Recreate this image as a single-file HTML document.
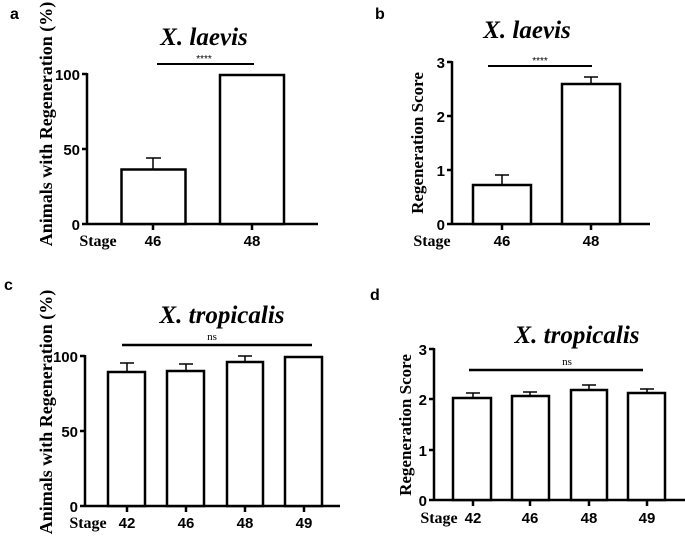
<!DOCTYPE html>
<html><head><meta charset="utf-8"><style>body{margin:0;background:#fff}svg{display:block}</style></head><body>
<svg width="685" height="544" viewBox="0 0 685 544" xmlns="http://www.w3.org/2000/svg">
<g font-family="Liberation Sans, sans-serif" font-weight="bold" fill="#000">
<text x="10" y="19" font-size="16">a</text>
<text x="375" y="19" font-size="16">b</text>
<text x="4" y="290" font-size="16">c</text>
<text x="370" y="300" font-size="16">d</text>
</g>
<g stroke="#000" stroke-width="2.5" fill="none">
<path d="M87,73 V224 H318 M82,74 H87 M82,149 H87 M82,224 H87 M153,224 V230 M252,224 V230"/>
<rect x="121.5" y="169.5" width="64" height="54.5" fill="#fff"/>
<rect x="220" y="75" width="64" height="149" fill="#fff"/>
<path d="M153,169 V158 M146,158 H161" stroke-width="1.5"/>
<path d="M157,64 H254" stroke-width="2"/>
<path d="M452,61 V224 H650 M447,62 H452 M447,116 H452 M447,170 H452 M447,224 H452 M502,224 V230 M591,224 V230"/>
<rect x="473" y="185" width="58" height="39" fill="#fff"/>
<rect x="562" y="84" width="58" height="140" fill="#fff"/>
<path d="M502,185 V175 M495,175 H509 M591,84 V77 M584,77 H598" stroke-width="1.5"/>
<path d="M488,66 H592" stroke-width="2"/>
<path d="M85,355 V506 H340 M80,356 H85 M80,431 H85 M80,506 H85 M127,506 V512 M186,506 V512 M245,506 V512 M304,506 V512"/>
<rect x="108" y="372" width="37" height="134" fill="#fff"/>
<rect x="167" y="371" width="37" height="135" fill="#fff"/>
<rect x="227" y="362" width="36" height="144" fill="#fff"/>
<rect x="285" y="357" width="37" height="149" fill="#fff"/>
<path d="M127,372 V363 M120,363 H134 M186,371 V364 M179,364 H193 M245,362 V356 M238,356 H252" stroke-width="1.5"/>
<path d="M122,345 H312" stroke-width="2.5"/>
<path d="M434,348 V500 H685 M429,349 H434 M429,399 H434 M429,450 H434 M429,500 H434 M473,500 V506 M530,500 V506 M589,500 V506 M647,500 V506"/>
<rect x="453" y="398" width="38" height="102" fill="#fff"/>
<rect x="512" y="396" width="37" height="104" fill="#fff"/>
<rect x="571" y="390" width="36" height="110" fill="#fff"/>
<rect x="628" y="393" width="37" height="107" fill="#fff"/>
<path d="M473,398 V393 M466,393 H480 M530,396 V392 M523,392 H537 M589,390 V385 M582,385 H596 M647,393 V389 M640,389 H654" stroke-width="1.5"/>
<path d="M469,370 H643" stroke-width="2.5"/>
</g>
<g font-family="Liberation Sans, sans-serif" font-weight="bold" font-size="15" fill="#000" text-anchor="end">
<text x="80" y="80">100</text><text x="80" y="155">50</text><text x="80" y="230">0</text>
<text x="445" y="68">3</text><text x="445" y="122">2</text><text x="445" y="176">1</text><text x="445" y="230">0</text>
<text x="78" y="362">100</text><text x="78" y="437">50</text><text x="78" y="512">0</text>
<text x="427" y="355">3</text><text x="427" y="405">2</text><text x="427" y="456">1</text><text x="427" y="506">0</text>
</g>
<g font-family="Liberation Sans, sans-serif" font-weight="bold" font-size="15" fill="#000" text-anchor="middle">
<text x="153" y="246">46</text><text x="252" y="246">48</text>
<text x="502" y="246">46</text><text x="591" y="246">48</text>
<text x="127" y="528">42</text><text x="186" y="528">46</text><text x="245" y="528">48</text><text x="304" y="528">49</text>
<text x="473" y="523">42</text><text x="530" y="523">46</text><text x="589" y="523">48</text><text x="647" y="523">49</text>
</g>
<g font-family="Liberation Serif, serif" font-weight="bold" font-size="16" fill="#000" text-anchor="middle">
<text x="98" y="246">Stage</text><text x="432" y="246">Stage</text>
<text x="88" y="528">Stage</text><text x="439" y="523">Stage</text>
<text transform="translate(52,124) rotate(-90)" font-size="18">Animals with Regeneration (%)</text>
<text transform="translate(423,143) rotate(-90)" font-size="17">Regeneration Score</text>
<text transform="translate(52,412) rotate(-90)" font-size="18">Animals with Regeneration (%)</text>
<text transform="translate(411,425) rotate(-90)" font-size="17">Regeneration Score</text>
</g>
<g font-family="Liberation Serif, serif" font-weight="bold" font-style="italic" font-size="25" fill="#000" text-anchor="middle">
<text x="204" y="45">X. laevis</text>
<text x="527" y="38">X. laevis</text>
<text x="222" y="323">X. tropicalis</text>
<text x="577" y="343">X. tropicalis</text>
</g>
<g font-family="Liberation Sans, sans-serif" font-size="10" fill="#000" text-anchor="middle">
<text x="204" y="62">****</text><text x="540" y="64">****</text>
</g>
<g font-family="Liberation Serif, serif" font-size="11" fill="#000" text-anchor="middle">
<text x="212" y="340">ns</text><text x="567" y="365">ns</text>
</g>
</svg>
</body></html>
